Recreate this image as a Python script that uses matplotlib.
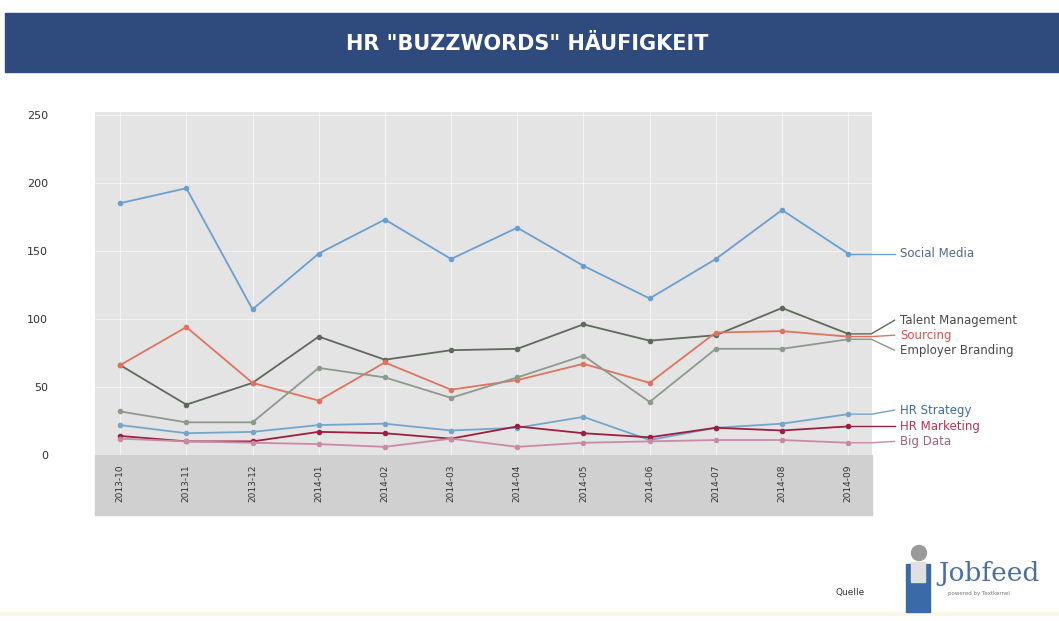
import matplotlib
matplotlib.use('Agg')
import matplotlib.pyplot as plt
from matplotlib.patches import Rectangle, Ellipse

# Daten
monate = ['2013-10', '2013-11', '2013-12', '2014-01', '2014-02', '2014-03',
          '2014-04', '2014-05', '2014-06', '2014-07', '2014-08', '2014-09']

social_media = [185, 196, 107, 148, 173, 144, 167, 139, 115, 144, 180, 148]
talent_management = [66, 37, 53, 87, 70, 77, 78, 96, 84, 88, 108, 89]
sourcing = [66, 94, 53, 40, 68, 48, 55, 67, 53, 90, 91, 87]
employer_branding = [32, 24, 24, 64, 57, 42, 57, 73, 39, 78, 78, 85]
hr_strategy = [22, 16, 17, 22, 23, 18, 20, 28, 11, 20, 23, 30]
hr_marketing = [14, 10, 10, 17, 16, 12, 21, 16, 13, 20, 18, 21]
big_data = [12, 10, 9, 8, 6, 12, 6, 9, 10, 11, 11, 9]

serien = [
    ('Social Media', social_media, '#6a9fd0', '#4f6a8c', 148),
    ('Talent Management', talent_management, '#5e6a5c', '#4a4a4a', 99),
    ('Sourcing', sourcing, '#e0735e', '#d9534a', 88),
    ('Employer Branding', employer_branding, '#8d9a8d', '#4a4a4a', 77),
    ('HR Strategy', hr_strategy, '#74a6c9', '#3f6f9f', 33),
    ('HR Marketing', hr_marketing, '#9b1f40', '#c0304a', 21),
    ('Big Data', big_data, '#c98aa8', '#a0607e', 10),
]

fig = plt.figure(figsize=(10.59, 6.21), dpi=100)
W, H = 1059, 621

# Titelbalken
fig.patches.append(Rectangle((5 / W, 1 - 72 / H), 1 - 5 / W, 59 / H,
                             transform=fig.transFigure, color='#2f4a7c', zorder=-2))
fig.text(527 / W, 1 - 44 / H, 'HR "BUZZWORDS" HÄUFIGKEIT', color='white',
         fontsize=15, fontweight='bold', ha='center', va='center',
         family=['Liberation Sans Narrow', 'DejaVu Sans'])

# Band für die x-Achsenbeschriftung (hinter den Achsen)
fig.patches.append(Rectangle((95 / W, 1 - 515 / H), (872 - 95) / W, 60 / H,
                             transform=fig.transFigure, color='#d0d0d0', zorder=-2))

ax = fig.add_axes([95 / W, 1 - 455 / H, (872 - 95) / W, (455 - 112) / H])
ax.set_facecolor('#e4e4e4')
ax.set_xlim(-0.38, 11.36)
ax.set_ylim(0, 252)
for s in ax.spines.values():
    s.set_visible(False)
ax.set_yticks([0, 50, 100, 150, 200, 250])
ax.set_xticks(range(len(monate)))
ax.set_xticklabels(monate, rotation=90, fontsize=6.5, color='#333333')
ax.tick_params(axis='x', length=0, pad=7)
ax.tick_params(axis='y', length=0, pad=34, labelsize=8, labelcolor='#333333')
ax.grid(True, color='white', linewidth=0.8, alpha=0.6)
ax.set_axisbelow(True)

x = list(range(len(monate)))
for name, werte, farbe, textfarbe, label_y in serien:
    ax.plot(x, werte, color=farbe, linewidth=1.3, marker='o', markersize=3,
            zorder=3)
    # Verbindungslinie zur Beschriftung
    ax.plot([x[-1], 11.35, 11.7], [werte[-1], werte[-1], label_y],
            color=farbe, linewidth=1.0, clip_on=False, zorder=3)
    ax.text(11.78, label_y, name, color=textfarbe, fontsize=8.5, va='center',
            ha='left', clip_on=False)

# Quelle / Logo
fig.text(835 / W, 1 - 592 / H, 'Quelle', fontsize=6.5, color='#333333',
         ha='left', va='center')
fig.patches.append(Rectangle((906 / W, 1 - 612 / H), 24 / W, 48 / H,
                             transform=fig.transFigure, color='#3a6aa8', zorder=1))
fig.patches.append(Rectangle((911 / W, 1 - 582 / H), 14 / W, 20 / H,
                             transform=fig.transFigure, color='#e0e0e0', zorder=2))
fig.patches.append(Ellipse((919 / W, 1 - 553 / H), 15 / W, 15 / H,
                           transform=fig.transFigure, color='#9a9a9a', zorder=2))
fig.text(938 / W, 1 - 574 / H, 'Jobfeed', fontsize=19, color='#4d6f9c',
         family='DejaVu Serif', ha='left', va='center')
fig.text(948 / W, 1 - 594 / H, 'powered by Textkernel', fontsize=4,
         color='#777777', ha='left', va='center')
fig.patches.append(Rectangle((0, 1 - 615 / H), 1, 3 / H,
                             transform=fig.transFigure, color='#fbf8e6', zorder=0))

fig.savefig('out.png', dpi=100)
